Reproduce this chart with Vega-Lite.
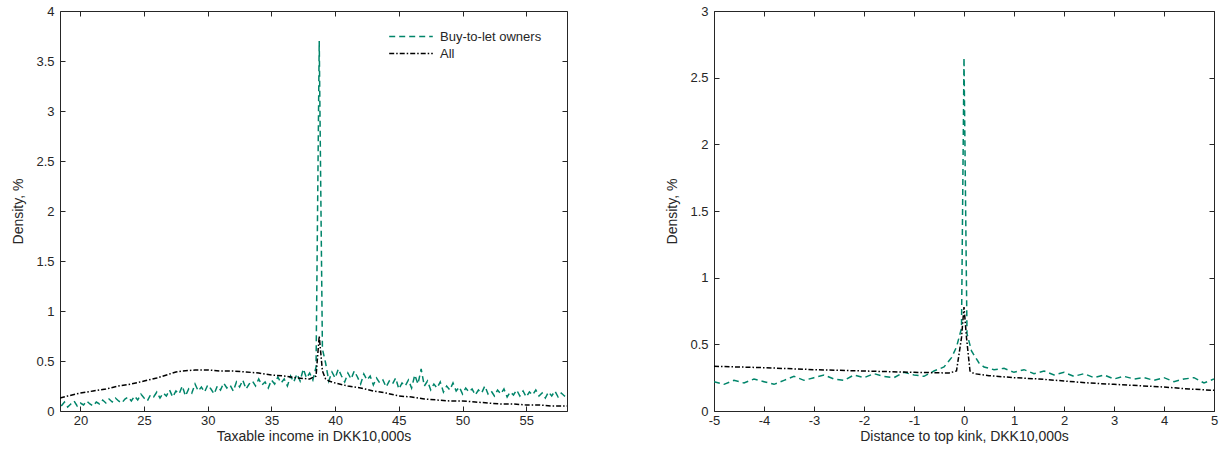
{
  "$schema": "https://vega.github.io/schema/vega-lite/v6.json",
  "padding": {"left": 11, "top": 5, "right": 5, "bottom": 5},
  "background": "white",
  "config": {
    "view": {"stroke": null},
    "font": "Liberation Sans",
    "axis": {
      "grid": false,
      "domainColor": "#262626",
      "tickColor": "#262626",
      "labelColor": "#262626",
      "titleColor": "#262626",
      "labelFont": "Liberation Sans",
      "titleFont": "Liberation Sans",
      "labelFontSize": 13,
      "titleFontSize": 14,
      "titleFontWeight": "normal",
      "tickSize": -5,
      "labelPadding": 11,
      "labelFlush": false,
      "labelOverlap": false,
      "labelExpr": "'' + datum.value"
    },
    "axisX": {"labelPadding": 8, "titlePadding": 2},
    "legend": {
      "labelFont": "Liberation Sans",
      "labelFontSize": 13,
      "labelColor": "#262626",
      "labelOffset": 6,
      "symbolType": "stroke",
      "symbolSize": 1900,
      "symbolStrokeWidth": 1.6,
      "rowPadding": 0,
      "clipHeight": 17,
      "orient": "none",
      "title": null
    },
    "concat": {"spacing": 97}
  },
  "datasets": {
    "lg": [
      {"x":18.5,"y":0.05},{"x":18.75,"y":0.09},{"x":19.0,"y":0.04},{"x":19.25,"y":0.07},{"x":19.5,"y":0.10},{"x":19.75,"y":0.05},
      {"x":20.0,"y":0.08},{"x":20.25,"y":0.06},{"x":20.5,"y":0.10},{"x":20.75,"y":0.07},{"x":21.0,"y":0.05},{"x":21.25,"y":0.09},
      {"x":21.5,"y":0.07},{"x":21.75,"y":0.11},{"x":22.0,"y":0.08},{"x":22.25,"y":0.12},{"x":22.5,"y":0.09},{"x":22.75,"y":0.13},
      {"x":23.0,"y":0.10},{"x":23.25,"y":0.08},{"x":23.5,"y":0.12},{"x":23.75,"y":0.14},{"x":24.0,"y":0.10},{"x":24.25,"y":0.15},
      {"x":24.5,"y":0.11},{"x":24.75,"y":0.17},{"x":25.0,"y":0.13},{"x":25.25,"y":0.10},{"x":25.5,"y":0.16},{"x":25.75,"y":0.14},
      {"x":26.0,"y":0.19},{"x":26.25,"y":0.13},{"x":26.5,"y":0.18},{"x":26.75,"y":0.15},{"x":27.0,"y":0.21},{"x":27.25,"y":0.14},
      {"x":27.5,"y":0.20},{"x":27.75,"y":0.17},{"x":28.0,"y":0.25},{"x":28.25,"y":0.15},{"x":28.5,"y":0.22},{"x":28.75,"y":0.18},
      {"x":29.0,"y":0.27},{"x":29.25,"y":0.20},{"x":29.5,"y":0.24},{"x":29.75,"y":0.19},{"x":30.0,"y":0.26},{"x":30.25,"y":0.22},
      {"x":30.5,"y":0.17},{"x":30.75,"y":0.25},{"x":31.0,"y":0.21},{"x":31.25,"y":0.28},{"x":31.5,"y":0.23},{"x":31.75,"y":0.26},
      {"x":32.0,"y":0.20},{"x":32.25,"y":0.29},{"x":32.5,"y":0.24},{"x":32.75,"y":0.31},{"x":33.0,"y":0.22},{"x":33.25,"y":0.27},
      {"x":33.5,"y":0.30},{"x":33.75,"y":0.25},{"x":34.0,"y":0.32},{"x":34.25,"y":0.26},{"x":34.5,"y":0.29},{"x":34.75,"y":0.23},
      {"x":35.0,"y":0.31},{"x":35.25,"y":0.27},{"x":35.5,"y":0.34},{"x":35.75,"y":0.28},{"x":36.0,"y":0.32},{"x":36.25,"y":0.25},
      {"x":36.5,"y":0.35},{"x":36.75,"y":0.29},{"x":37.0,"y":0.37},{"x":37.25,"y":0.30},{"x":37.5,"y":0.42},{"x":37.75,"y":0.33},
      {"x":38.0,"y":0.38},{"x":38.25,"y":0.31},{"x":38.5,"y":0.44},{"x":38.75,"y":3.70},{"x":39.0,"y":0.62},{"x":39.25,"y":0.48},
      {"x":39.5,"y":0.30},{"x":39.75,"y":0.39},{"x":40.0,"y":0.33},{"x":40.25,"y":0.42},{"x":40.5,"y":0.35},{"x":40.75,"y":0.29},
      {"x":41.0,"y":0.38},{"x":41.25,"y":0.32},{"x":41.5,"y":0.40},{"x":41.75,"y":0.34},{"x":42.0,"y":0.27},{"x":42.25,"y":0.37},
      {"x":42.5,"y":0.31},{"x":42.75,"y":0.35},{"x":43.0,"y":0.26},{"x":43.25,"y":0.33},{"x":43.5,"y":0.28},{"x":43.75,"y":0.31},
      {"x":44.0,"y":0.24},{"x":44.25,"y":0.30},{"x":44.5,"y":0.27},{"x":44.75,"y":0.33},{"x":45.0,"y":0.22},{"x":45.25,"y":0.28},
      {"x":45.5,"y":0.25},{"x":45.75,"y":0.31},{"x":46.0,"y":0.23},{"x":46.25,"y":0.36},{"x":46.5,"y":0.27},{"x":46.75,"y":0.42},
      {"x":47.0,"y":0.25},{"x":47.25,"y":0.30},{"x":47.5,"y":0.21},{"x":47.75,"y":0.27},{"x":48.0,"y":0.23},{"x":48.25,"y":0.29},
      {"x":48.5,"y":0.19},{"x":48.75,"y":0.25},{"x":49.0,"y":0.21},{"x":49.25,"y":0.28},{"x":49.5,"y":0.20},{"x":49.75,"y":0.24},
      {"x":50.0,"y":0.17},{"x":50.25,"y":0.23},{"x":50.5,"y":0.19},{"x":50.75,"y":0.22},{"x":51.0,"y":0.16},{"x":51.25,"y":0.21},
      {"x":51.5,"y":0.18},{"x":51.75,"y":0.25},{"x":52.0,"y":0.17},{"x":52.25,"y":0.20},{"x":52.5,"y":0.15},{"x":52.75,"y":0.21},
      {"x":53.0,"y":0.17},{"x":53.25,"y":0.22},{"x":53.5,"y":0.14},{"x":53.75,"y":0.19},{"x":54.0,"y":0.16},{"x":54.25,"y":0.21},
      {"x":54.5,"y":0.15},{"x":54.75,"y":0.20},{"x":55.0,"y":0.14},{"x":55.25,"y":0.19},{"x":55.5,"y":0.16},{"x":55.75,"y":0.21},
      {"x":56.0,"y":0.15},{"x":56.25,"y":0.18},{"x":56.5,"y":0.13},{"x":56.75,"y":0.19},{"x":57.0,"y":0.15},{"x":57.25,"y":0.20},
      {"x":57.5,"y":0.14},{"x":57.75,"y":0.18},{"x":58.0,"y":0.15},{"x":58.25,"y":0.13}
    ],
    "la": [
      {"x":18.4,"y":0.13},{"x":19,"y":0.15},{"x":20,"y":0.18},{"x":21,"y":0.20},{"x":22,"y":0.22},{"x":23,"y":0.25},
      {"x":24,"y":0.27},{"x":25,"y":0.30},{"x":26,"y":0.33},{"x":27,"y":0.37},{"x":27.5,"y":0.39},{"x":28,"y":0.40},
      {"x":29,"y":0.41},{"x":30,"y":0.41},{"x":31,"y":0.40},{"x":32,"y":0.40},{"x":33,"y":0.39},{"x":34,"y":0.38},
      {"x":35,"y":0.36},{"x":36,"y":0.35},{"x":37,"y":0.33},{"x":38,"y":0.32},{"x":38.5,"y":0.35},{"x":38.75,"y":0.75},
      {"x":39.0,"y":0.40},{"x":39.25,"y":0.32},{"x":39.5,"y":0.30},{"x":40,"y":0.28},{"x":41,"y":0.25},{"x":42,"y":0.23},
      {"x":43,"y":0.20},{"x":44,"y":0.18},{"x":45,"y":0.15},{"x":46,"y":0.14},{"x":47,"y":0.12},{"x":48,"y":0.11},
      {"x":49,"y":0.10},{"x":50,"y":0.10},{"x":51,"y":0.09},{"x":52,"y":0.08},{"x":53,"y":0.07},{"x":54,"y":0.07},
      {"x":55,"y":0.06},{"x":56,"y":0.06},{"x":57,"y":0.05},{"x":58.2,"y":0.05}
    ],
    "rg": [
      {"x":-5.0,"y":0.22},{"x":-4.8,"y":0.20},{"x":-4.6,"y":0.23},{"x":-4.4,"y":0.21},{"x":-4.2,"y":0.24},{"x":-4.0,"y":0.22},
      {"x":-3.8,"y":0.20},{"x":-3.6,"y":0.23},{"x":-3.4,"y":0.26},{"x":-3.2,"y":0.23},{"x":-3.0,"y":0.25},{"x":-2.8,"y":0.27},
      {"x":-2.6,"y":0.24},{"x":-2.4,"y":0.23},{"x":-2.2,"y":0.27},{"x":-2.0,"y":0.25},{"x":-1.8,"y":0.28},{"x":-1.6,"y":0.26},
      {"x":-1.4,"y":0.25},{"x":-1.2,"y":0.29},{"x":-1.0,"y":0.27},{"x":-0.8,"y":0.26},{"x":-0.6,"y":0.30},{"x":-0.4,"y":0.33},
      {"x":-0.25,"y":0.40},{"x":-0.15,"y":0.48},{"x":-0.05,"y":0.62},{"x":0,"y":2.65},{"x":0.06,"y":0.58},{"x":0.15,"y":0.45},
      {"x":0.3,"y":0.36},{"x":0.4,"y":0.33},{"x":0.6,"y":0.31},{"x":0.8,"y":0.32},{"x":1.0,"y":0.29},{"x":1.2,"y":0.31},
      {"x":1.4,"y":0.28},{"x":1.6,"y":0.30},{"x":1.8,"y":0.27},{"x":2.0,"y":0.29},{"x":2.2,"y":0.26},{"x":2.4,"y":0.28},
      {"x":2.6,"y":0.25},{"x":2.8,"y":0.27},{"x":3.0,"y":0.24},{"x":3.2,"y":0.26},{"x":3.4,"y":0.24},{"x":3.6,"y":0.25},
      {"x":3.8,"y":0.23},{"x":4.0,"y":0.25},{"x":4.2,"y":0.22},{"x":4.4,"y":0.24},{"x":4.6,"y":0.25},{"x":4.8,"y":0.21},
      {"x":5.0,"y":0.24}
    ],
    "ra": [
      {"x":-5,"y":0.335},{"x":-4,"y":0.325},{"x":-3,"y":0.31},{"x":-2,"y":0.30},{"x":-1,"y":0.29},{"x":-0.3,"y":0.285},
      {"x":-0.15,"y":0.30},{"x":-0.05,"y":0.55},{"x":0,"y":0.78},{"x":0.05,"y":0.55},{"x":0.12,"y":0.30},{"x":0.2,"y":0.28},
      {"x":0.5,"y":0.265},{"x":1,"y":0.25},{"x":1.5,"y":0.24},{"x":2,"y":0.225},{"x":2.5,"y":0.21},{"x":3,"y":0.20},
      {"x":3.5,"y":0.19},{"x":4,"y":0.18},{"x":4.5,"y":0.165},{"x":5,"y":0.155}
    ]
  },
  "hconcat": [
    {
      "width": 507,
      "height": 400,
      "layer": [
        {
          "data": {"name": "lg"},
          "mark": {"type": "line", "strokeWidth": 1.5, "clip": true},
          "encoding": {
            "x": {"field": "x", "type": "quantitative", "scale": {"domain": [18.4, 58.2], "nice": false, "zero": false},
                  "axis": {"values": [20, 25, 30, 35, 40, 45, 50, 55], "title": "Taxable income in DKK10,000s"}},
            "y": {"field": "y", "type": "quantitative", "scale": {"domain": [0, 4], "nice": false},
                  "axis": {"values": [0, 0.5, 1, 1.5, 2, 2.5, 3, 3.5, 4], "title": "Density, %", "titlePadding": 10}},
            "color": {"datum": "Buy-to-let owners", "type": "nominal",
                      "scale": {"domain": ["Buy-to-let owners", "All"], "range": ["#00856a", "#000000"]},
                      "legend": {"legendX": 328, "legendY": 17}},
            "strokeDash": {"datum": "Buy-to-let owners", "type": "nominal",
                           "scale": {"domain": ["Buy-to-let owners", "All"], "range": [[6, 4], [5, 2, 1.5, 2]]},
                           "legend": {"legendX": 328, "legendY": 17}}
          }
        },
        {
          "data": {"name": "la"},
          "mark": {"type": "line", "strokeWidth": 1.5, "clip": true},
          "encoding": {
            "x": {"field": "x", "type": "quantitative", "scale": {"domain": [18.4, 58.2], "nice": false, "zero": false},
                  "axis": {"orient": "top", "values": [20, 25, 30, 35, 40, 45, 50, 55], "labels": false, "title": null}},
            "y": {"field": "y", "type": "quantitative", "scale": {"domain": [0, 4], "nice": false},
                  "axis": {"orient": "right", "values": [0, 0.5, 1, 1.5, 2, 2.5, 3, 3.5, 4], "labels": false, "title": null}},
            "color": {"datum": "All", "type": "nominal"},
            "strokeDash": {"datum": "All", "type": "nominal"}
          }
        }
      ],
      "resolve": {"axis": {"x": "independent", "y": "independent"}}
    },
    {
      "width": 500,
      "height": 400,
      "layer": [
        {
          "data": {"name": "rg"},
          "mark": {"type": "line", "strokeWidth": 1.5, "clip": true},
          "encoding": {
            "x": {"field": "x", "type": "quantitative", "scale": {"domain": [-5, 5], "nice": false, "zero": false},
                  "axis": {"values": [-5, -4, -3, -2, -1, 0, 1, 2, 3, 4, 5], "title": "Distance to top kink, DKK10,000s"}},
            "y": {"field": "y", "type": "quantitative", "scale": {"domain": [0, 3], "nice": false},
                  "axis": {"values": [0, 0.5, 1, 1.5, 2, 2.5, 3], "title": "Density, %", "titlePadding": 10}},
            "color": {"datum": "Buy-to-let owners", "type": "nominal",
                      "scale": {"domain": ["Buy-to-let owners", "All"], "range": ["#00856a", "#000000"]},
                      "legend": {"legendX": 325, "legendY": 17}},
            "strokeDash": {"datum": "Buy-to-let owners", "type": "nominal",
                           "scale": {"domain": ["Buy-to-let owners", "All"], "range": [[6, 4], [5, 2, 1.5, 2]]},
                           "legend": {"legendX": 325, "legendY": 17}}
          }
        },
        {
          "data": {"name": "ra"},
          "mark": {"type": "line", "strokeWidth": 1.5, "clip": true},
          "encoding": {
            "x": {"field": "x", "type": "quantitative", "scale": {"domain": [-5, 5], "nice": false, "zero": false},
                  "axis": {"orient": "top", "values": [-5, -4, -3, -2, -1, 0, 1, 2, 3, 4, 5], "labels": false, "title": null}},
            "y": {"field": "y", "type": "quantitative", "scale": {"domain": [0, 3], "nice": false},
                  "axis": {"orient": "right", "values": [0, 0.5, 1, 1.5, 2, 2.5, 3], "labels": false, "title": null}},
            "color": {"datum": "All", "type": "nominal"},
            "strokeDash": {"datum": "All", "type": "nominal"}
          }
        }
      ],
      "resolve": {"axis": {"x": "independent", "y": "independent"}}
    }
  ]
}
